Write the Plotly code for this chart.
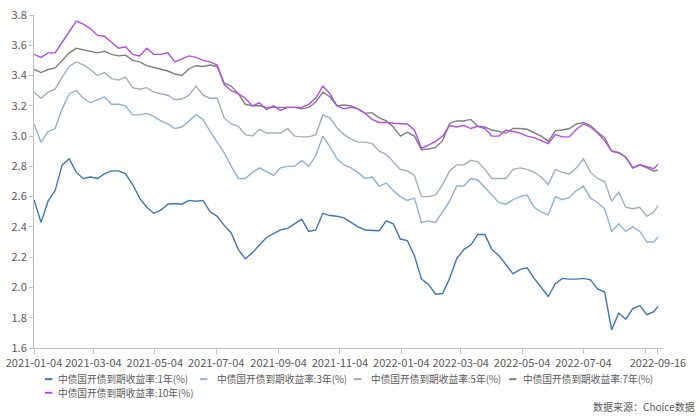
import pandas as pd
import plotly.graph_objects as go

# weekly sampling dates plus the last date
dates = list(pd.date_range("2021-01-04", periods=89, freq="7D").strftime("%Y-%m-%d")) + ["2022-09-16"]

y1 = [2.58, 2.43, 2.57, 2.64, 2.81, 2.85, 2.76, 2.72, 2.73, 2.72, 2.75, 2.77, 2.77, 2.75, 2.68,
      2.59, 2.53, 2.49, 2.51, 2.55, 2.555, 2.55, 2.575, 2.57, 2.575, 2.50, 2.47, 2.41, 2.36, 2.25,
      2.19, 2.23, 2.28, 2.33, 2.355, 2.38, 2.39, 2.42, 2.45, 2.37, 2.38, 2.49, 2.475, 2.47, 2.46,
      2.43, 2.40, 2.38, 2.375, 2.375, 2.44, 2.42, 2.32, 2.31, 2.21, 2.055, 2.02, 1.955, 1.96, 2.06,
      2.19, 2.25, 2.28, 2.35, 2.35, 2.25, 2.21, 2.15, 2.09, 2.12, 2.13, 2.06, 2.00, 1.94, 2.025,
      2.06, 2.055, 2.055, 2.06, 2.05, 1.99, 1.97, 1.72, 1.83, 1.79, 1.86, 1.88, 1.82, 1.84, 1.875]
y3 = [3.08, 2.96, 3.03, 3.05, 3.18, 3.28, 3.30, 3.25, 3.22, 3.24, 3.26, 3.21, 3.21, 3.20, 3.14,
      3.14, 3.15, 3.13, 3.10, 3.08, 3.05, 3.06, 3.10, 3.14, 3.11, 3.03, 2.96, 2.89, 2.80, 2.72,
      2.72, 2.76, 2.79, 2.765, 2.74, 2.79, 2.80, 2.80, 2.84, 2.80, 2.87, 3.00, 2.93, 2.85, 2.81,
      2.79, 2.76, 2.72, 2.73, 2.67, 2.69, 2.64, 2.60, 2.575, 2.59, 2.43, 2.44, 2.43, 2.50, 2.57,
      2.67, 2.67, 2.72, 2.71, 2.66, 2.61, 2.56, 2.55, 2.58, 2.60, 2.61, 2.53, 2.50, 2.48, 2.60,
      2.58, 2.595, 2.64, 2.67, 2.59, 2.56, 2.52, 2.37, 2.42, 2.37, 2.40, 2.37, 2.30, 2.30, 2.335]
y5 = [3.29, 3.25, 3.29, 3.31, 3.39, 3.46, 3.49, 3.47, 3.44, 3.40, 3.42, 3.38, 3.37, 3.39, 3.32,
      3.31, 3.32, 3.29, 3.28, 3.27, 3.24, 3.245, 3.27, 3.33, 3.27, 3.25, 3.25, 3.12, 3.08, 3.065,
      3.01, 3.00, 3.045, 3.02, 3.02, 3.02, 3.05, 3.00, 2.995, 2.995, 3.01, 3.14, 3.12, 3.055, 3.01,
      2.98, 2.96, 2.96, 2.95, 2.90, 2.88, 2.83, 2.78, 2.77, 2.74, 2.60, 2.60, 2.61, 2.68, 2.77,
      2.81, 2.81, 2.84, 2.83, 2.78, 2.72, 2.72, 2.72, 2.78, 2.79, 2.78, 2.76, 2.73, 2.68, 2.78,
      2.76, 2.75, 2.79, 2.85, 2.76, 2.72, 2.70, 2.57, 2.63, 2.53, 2.52, 2.53, 2.47, 2.50, 2.54]
y7 = [3.44, 3.42, 3.44, 3.45, 3.50, 3.55, 3.58, 3.57, 3.56, 3.55, 3.56, 3.54, 3.53, 3.535, 3.50,
      3.49, 3.465, 3.455, 3.445, 3.43, 3.41, 3.40, 3.445, 3.465, 3.46, 3.47, 3.46, 3.35, 3.33, 3.28,
      3.21, 3.20, 3.20, 3.19, 3.19, 3.19, 3.195, 3.19, 3.18, 3.19, 3.225, 3.29, 3.26, 3.20, 3.205,
      3.20, 3.18, 3.15, 3.155, 3.12, 3.10, 3.06, 3.00, 3.025, 3.00, 2.91, 2.915, 2.925, 2.97, 3.085,
      3.10, 3.10, 3.11, 3.065, 3.06, 3.04, 3.03, 3.02, 3.05, 3.05, 3.045, 3.02, 3.00, 2.965, 3.035,
      3.04, 3.05, 3.08, 3.09, 3.07, 3.025, 2.99, 2.90, 2.89, 2.86, 2.79, 2.81, 2.79, 2.77, 2.775]
y10 = [3.54, 3.52, 3.55, 3.55, 3.62, 3.69, 3.76, 3.74, 3.71, 3.665, 3.66, 3.62, 3.58, 3.59, 3.54,
       3.53, 3.58, 3.54, 3.54, 3.55, 3.49, 3.51, 3.53, 3.52, 3.50, 3.49, 3.47, 3.34, 3.30, 3.28,
       3.25, 3.20, 3.22, 3.175, 3.20, 3.17, 3.19, 3.19, 3.19, 3.21, 3.25, 3.33, 3.28, 3.20, 3.18,
       3.19, 3.18, 3.15, 3.11, 3.09, 3.09, 3.085, 3.085, 3.08, 3.04, 2.92, 2.94, 2.965, 3.00, 3.07,
       3.06, 3.07, 3.05, 3.065, 3.05, 3.00, 3.00, 3.04, 3.03, 3.02, 3.00, 2.99, 2.97, 2.95, 3.01,
       2.995, 2.995, 3.045, 3.08, 3.06, 3.02, 2.97, 2.90, 2.89, 2.86, 2.79, 2.81, 2.80, 2.785, 2.815]

names = ["中债国开债到期收益率:1年(%)", "中债国开债到期收益率:3年(%)", "中债国开债到期收益率:5年(%)",
         "中债国开债到期收益率:7年(%)", "中债国开债到期收益率:10年(%)"]
colors = ["#3f74b9", "#8fb1d9", "#a3adbb", "#7f7f7f", "#b04fe0"]
series = [y1, y3, y5, y7, y10]

y_ticks = [1.6, 1.8, 2.0, 2.2, 2.4, 2.6, 2.8, 3.0, 3.2, 3.4, 3.6, 3.8]
tick_vals = ["2021-01-04", "2021-03-04", "2021-05-04", "2021-07-04", "2021-09-04", "2021-11-04",
             "2022-01-04", "2022-03-04", "2022-05-04", "2022-07-04", "2022-09-04", "2022-09-16"]
tick_text = ["2021-01-04", "2021-03-04", "2021-05-04", "2021-07-04", "2021-09-04", "2021-11-04",
             "2022-01-04", "2022-03-04", "2022-05-04", "2022-07-04", "", "2022-09-16"]

# layout geometry (pixels) of the 700x420 canvas
W, H = 700, 420
ML, MR, MT, MB = 30, 37, 6, 72
PW, PH = W - ML - MR, H - MT - MB


def px(xp):
    return (xp - ML) / PW


def py(yp):
    return (H - MB - yp) / PH


# legend slots: (dash left x, text left x, row y) in pixels
legend_slots = [(41, 51.7, 380), (197, 211.7, 380), (352, 366.7, 380), (508, 520, 380), (41, 51.7, 394)]

FONT = "Noto Sans CJK SC, Microsoft YaHei, sans-serif"
fig = go.Figure()
for n, c, s in zip(names, colors, series):
    fig.add_trace(go.Scatter(x=dates, y=s, name=n, mode="lines", showlegend=False,
                             line=dict(color=c, width=1.4)))

shapes, annotations = [], []
for n, c, (dx, tx, ry) in zip(names, colors, legend_slots):
    shapes.append(dict(type="line", xref="paper", yref="paper",
                       x0=px(dx), x1=px(dx + 7.5), y0=py(ry), y1=py(ry),
                       line=dict(color=c, width=2)))
    annotations.append(dict(text=n, xref="paper", yref="paper", x=px(tx), y=py(ry),
                            xanchor="left", yanchor="middle", showarrow=False,
                            font=dict(size=9.7, color="#595959")))
annotations.append(dict(text="数据来源：Choice数据", xref="paper", yref="paper",
                        x=px(697), y=py(408), xanchor="right", yanchor="middle",
                        showarrow=False, font=dict(size=10, color="#595959")))

fig.update_layout(
    width=W, height=H,
    margin=dict(l=ML, r=MR, t=MT, b=MB),
    paper_bgcolor="white", plot_bgcolor="white",
    font=dict(family=FONT, size=11, color="#595959"),
    showlegend=False,
    xaxis=dict(type="date", range=["2021-01-04", "2022-09-21"],
               tickmode="array", tickvals=tick_vals, ticktext=tick_text,
               showgrid=False, zeroline=False, showline=True, linecolor="#bfbfbf",
               ticks="outside", ticklen=5, tickcolor="#bfbfbf",
               tickfont=dict(size=11, color="#595959")),
    yaxis=dict(range=[1.6, 3.8], tickmode="array", tickvals=y_ticks, tickformat=".1f",
               showgrid=False, zeroline=False, showline=True, linecolor="#bfbfbf",
               ticks="outside", ticklen=4, tickcolor="#bfbfbf", ticklabeloverflow="allow",
               tickfont=dict(size=11, color="#595959")),
    shapes=shapes,
    annotations=annotations,
)
fig.write_html("out.html")
